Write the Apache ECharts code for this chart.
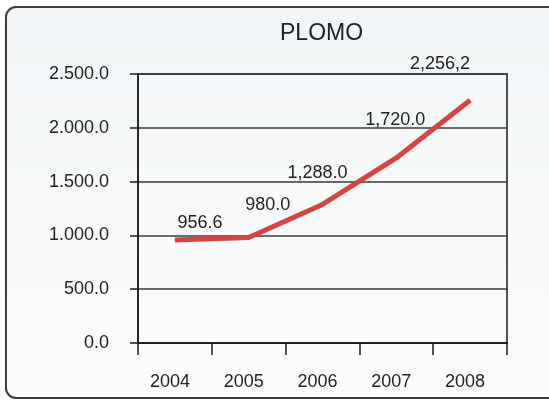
<!DOCTYPE html>
<html>
<head>
<meta charset="utf-8">
<script src="https://cdn.jsdelivr.net/npm/echarts@6/dist/echarts.min.js"></script>
<style>
html,body{margin:0;padding:0;background:#ffffff;}
#chart{width:549px;height:400px;}
</style>
</head>
<body>
<div id="chart"></div>
<script>
// ---- data ----
var years = ['2004', '2005', '2006', '2007', '2008'];
var values = [956.6, 980.0, 1288.0, 1720.0, 2256.2];
var valueLabels = ['956.6', '980.0', '1,288.0', '1,720.0', '2,256,2'];
var yTickLabels = ['0.0', '500.0', '1.000.0', '1.500.0', '2.000.0', '2.500.0'];
var titleText = 'PLOMO';

// ---- layout / style ----
var labelOffsets = [[25, -17], [19, -33], [-5, -31], [-1, -38], [-30, -36]];
var FONT = 'Liberation Sans, Arial, Helvetica, sans-serif';
var TXT = '#222222';

var chart = echarts.init(document.getElementById('chart'), null, {renderer: 'canvas'});
var option = {
  animation: false,
  backgroundColor: '#ffffff',
  graphic: [{
    type: 'rect',
    z: -10,
    silent: true,
    shape: {x: 6, y: 7, width: 580, height: 391, r: 10},
    style: {
      fill: new echarts.graphic.LinearGradient(0, 0, 0, 1, [
        {offset: 0, color: '#f2f5f7'},
        {offset: 1, color: '#fbfcfd'}
      ]),
      stroke: '#3a3a3a',
      lineWidth: 2
    }
  }],
  title: {
    text: titleText,
    left: 280,
    top: 22,
    padding: 0,
    textStyle: {fontFamily: FONT, fontSize: 23, fontWeight: 'normal', color: TXT}
  },
  grid: {
    left: 138, right: 42, top: 74, bottom: 57,
    show: true,
    backgroundColor: 'transparent',
    borderColor: '#1a1a1a',
    borderWidth: 1.5
  },
  xAxis: {
    type: 'category',
    data: years,
    boundaryGap: true,
    axisLine: {lineStyle: {color: '#1a1a1a', width: 1.5}},
    axisTick: {show: true, length: 12, inside: false, lineStyle: {color: '#1a1a1a', width: 1.5}},
    axisLabel: {
      margin: 30,
      fontFamily: FONT, fontSize: 18, color: TXT,
      padding: [0, 10, 0, 0]
    },
    splitLine: {show: false}
  },
  yAxis: {
    type: 'value',
    min: 0, max: 2500, interval: 500,
    axisLine: {show: true, lineStyle: {color: '#1a1a1a', width: 1.5}},
    axisTick: {show: true, length: 8, lineStyle: {color: '#1a1a1a', width: 1.5}},
    axisLabel: {
      margin: 29,
      fontFamily: FONT, fontSize: 18, color: TXT,
      formatter: function (v) { return yTickLabels[Math.round(v / 500)]; }
    },
    splitLine: {show: true, lineStyle: {color: '#3a3a3a', width: 1.5}}
  },
  series: [{
    type: 'line',
    data: values.map(function (v, i) {
      return {value: v, label: {offset: labelOffsets[i]}};
    }),
    symbol: 'circle',
    symbolSize: 1,
    showSymbol: true,
    itemStyle: {color: '#d7443f'},
    lineStyle: {color: '#d7443f', width: 5},
    label: {
      show: true,
      position: 'inside',
      fontFamily: FONT, fontSize: 18, color: TXT,
      formatter: function (p) { return valueLabels[p.dataIndex]; }
    },
    z: 5
  }]
};
chart.setOption(option);
</script>
</body>
</html>
